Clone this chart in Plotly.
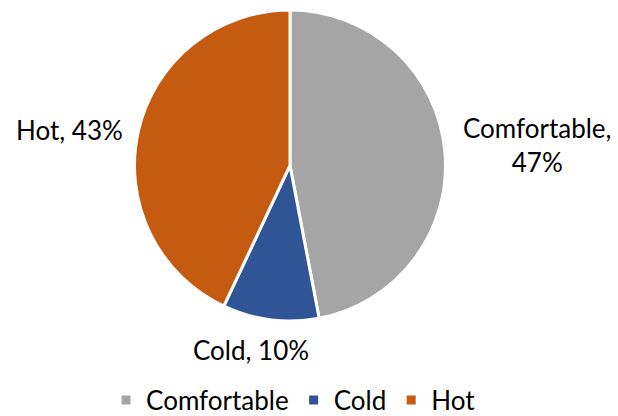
import plotly.graph_objects as go

labels = ["Comfortable", "Cold", "Hot"]
values = [47, 10, 43]
colors = ["#A5A5A5", "#2F5597", "#C55A11"]
label_text = ["Comfortable,<br>47%", "Cold, 10%", "Hot, 43%"]
label_pos = [(0.869, 0.652), (0.406, 0.159), (0.113, 0.688)]

fig = go.Figure(go.Pie(
    labels=labels,
    values=values,
    textinfo="none",
    marker=dict(colors=colors, line=dict(color="white", width=3)),
    sort=False,
    direction="clockwise",
    rotation=0,
    domain=dict(x=[0.2176, 0.7209], y=[0.2284, 0.976]),
    showlegend=True,
    hoverinfo="label+percent",
))

for t, (x, y) in zip(label_text, label_pos):
    fig.add_annotation(x=x, y=y, xref="paper", yref="paper", text=t, showarrow=False,
                       font=dict(size=26, family="Lato", color="#000000"),
                       xanchor="center", yanchor="middle", align="center")

fig.update_layout(
    width=618, height=416,
    margin=dict(l=0, r=0, t=0, b=0, autoexpand=False),
    paper_bgcolor="white",
    plot_bgcolor="white",
    font=dict(family="Lato", size=26, color="#000000"),
    legend=dict(orientation="h", x=0.475, xanchor="center", y=-0.018, yanchor="bottom",
                font=dict(size=26, family="Lato"), itemwidth=30,
                traceorder="normal"),
)

fig.write_html("out.html")
